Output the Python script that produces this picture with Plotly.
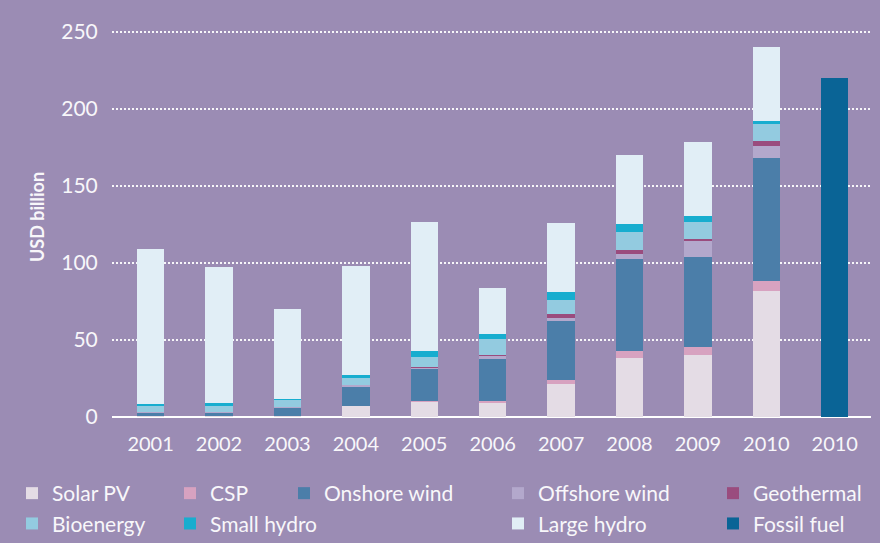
import plotly.graph_objects as go

# ---- data (USD billion) ----
categories = ["2001", "2002", "2003", "2004", "2005", "2006", "2007", "2008", "2009", "2010", "2010"]
solar_pv    = [0.5, 0.4, 0.4, 7.0, 9.8, 9.6, 21.7, 38.0, 40.2, 82.0, 0]
csp         = [0.0, 0.0, 0.0, 0.0, 0.3, 0.5, 2.6, 4.8, 5.0, 6.1, 0]
onshore     = [2.5, 2.8, 5.7, 13.0, 21.7, 27.4, 38.3, 60.0, 58.7, 80.4, 0]
offshore    = [0.3, 0.3, 0.3, 0.5, 0.5, 2.5, 1.5, 2.8, 10.7, 7.2, 0]
geothermal  = [0.0, 0.0, 0.0, 0.0, 0.3, 0.5, 2.8, 2.6, 1.3, 3.7, 0]
bioenergy   = [4.4, 3.9, 4.8, 5.0, 6.5, 10.2, 9.1, 12.0, 10.7, 10.7, 0]
small_hydro = [0.5, 1.5, 0.5, 1.5, 3.9, 3.3, 5.4, 5.0, 3.9, 2.2, 0]
large_hydro = [100.9, 88.6, 58.6, 70.9, 83.5, 30.0, 44.6, 45.0, 47.8, 48.0, 0]
fossil_fuel = [0, 0, 0, 0, 0, 0, 0, 0, 0, 0, 220.0]
y_ticks = [0, 50, 100, 150, 200, 250]

# ---- styles ----
BG = "#9B8CB4"
FONT = "Lato, Open Sans, sans-serif"
TXT = "#F8F7FA"

series = [
    ("Solar PV", solar_pv, "#E4DCE5", "legend"),
    ("CSP", csp, "#D7A2C0", "legend2"),
    ("Onshore wind", onshore, "#4B7EA9", "legend3"),
    ("Offshore wind", offshore, "#B3A8CC", "legend4"),
    ("Geothermal", geothermal, "#9A4C7E", "legend5"),
    ("Bioenergy", bioenergy, "#93CBE0", "legend"),
    ("Small hydro", small_hydro, "#17ADCF", "legend2"),
    ("Large hydro", large_hydro, "#E1EEF6", "legend4"),
    ("Fossil fuel", fossil_fuel, "#0A6496", "legend5"),
]

x_idx = list(range(len(categories)))

fig = go.Figure()
for name, vals, color, leg in series:
    fig.add_trace(go.Bar(
        x=x_idx, y=vals, name=name, marker=dict(color=color, line=dict(width=0)),
        width=0.40, legend=leg, hoverinfo="name+y",
    ))

W, H = 880, 543
L, R, T, B = 112, 9, 30, 126
pw, ph = W - L - R, H - T - B
y_top = 250 + (32 - T) / 1.54

def px(xp):
    return (xp - L) / pw

def py(yp):
    return (H - B - yp) / ph

legend_common = dict(
    orientation="v", xanchor="left", yanchor="top", bgcolor="rgba(0,0,0,0)",
    xref="container", yref="container",
    font=dict(family=FONT, size=21, color=TXT), traceorder="normal",
    borderwidth=0, tracegroupgap=0,
)
leg_left = [25, 183, 297, 511, 726]
leg_keys = ["legend", "legend2", "legend3", "legend4", "legend5"]
legends = {}
for k, xl in zip(leg_keys, leg_left):
    legends[k] = dict(legend_common, x=(xl - 13) / W, y=1 - 473 / H)

fig.update_layout(
    width=W, height=H,
    margin=dict(l=L, r=R, t=T, b=B, pad=0, autoexpand=False),
    paper_bgcolor=BG, plot_bgcolor=BG,
    barmode="stack", bargap=0,
    showlegend=True,
    font=dict(family=FONT, color=TXT),
    xaxis=dict(
        range=[-0.564, 10.53], tickmode="array", tickvals=x_idx, ticktext=categories,
        showgrid=False, zeroline=False, showline=False, ticks="",
        tickfont=dict(family=FONT, size=20, color=TXT), ticklabelstandoff=13,
        fixedrange=True, automargin=False,
    ),
    yaxis=dict(
        range=[0, y_top], tickmode="array", tickvals=y_ticks,
        showgrid=True, gridcolor="rgba(255,255,255,0.92)", gridwidth=2, griddash="2px,2px",
        zeroline=True, zerolinecolor="#FFFFFF", zerolinewidth=2,
        showline=False, ticks="outside", ticklen=9, tickcolor="rgba(0,0,0,0)",
        tickfont=dict(family=FONT, size=21, color=TXT), fixedrange=True, automargin=False,
    ),
    annotations=[dict(
        text="<b>USD billion</b>", xref="paper", yref="paper", x=px(37), y=py(217),
        textangle=-90, showarrow=False, xanchor="center", yanchor="middle",
        font=dict(family=FONT, size=18, color=TXT),
    )],
    **legends,
)

fig.write_html(
    "out.html",
    config={"displayModeBar": False},
    post_script="document.body.style.margin='0';document.body.style.overflow='hidden';",
)
